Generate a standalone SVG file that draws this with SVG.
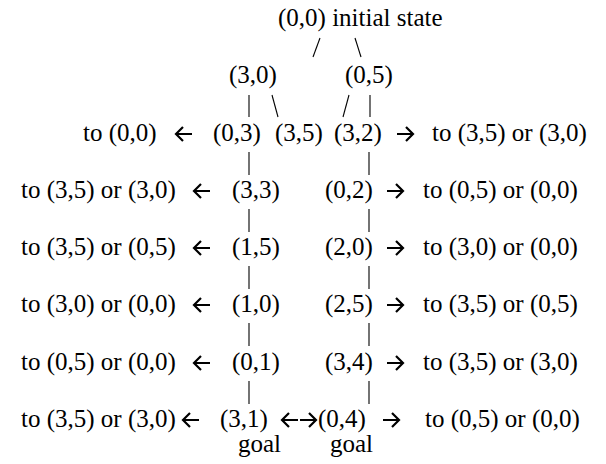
<svg xmlns="http://www.w3.org/2000/svg" width="606" height="464" viewBox="0 0 606 464">
<style>
text{font-family:'Liberation Serif','Times New Roman','DejaVu Serif',serif;font-size:25px;fill:#000}
.c line{stroke:#000;stroke-width:1.1}
.a path{fill:none;stroke:#000;stroke-width:2.2}
</style>
<rect width="606" height="464" fill="#fff"/>
<g id="n00"><text x="278" y="26">(0,0) initial state</text></g>
<g id="n30"><text x="229" y="83">(3,0)</text></g>
<g id="n05"><text x="345" y="83">(0,5)</text></g>
<g id="n03"><text x="213" y="141">(0,3)</text><text x="83" y="141">to (0,0)</text></g>
<g id="n35"><text x="275" y="141">(3,5)</text></g>
<g id="n32"><text x="334" y="141">(3,2)</text><text x="432" y="141">to (3,5) or (3,0)</text></g>
<g id="n33"><text x="232" y="198">(3,3)</text><text x="21" y="198">to (3,5) or (3,0)</text></g>
<g id="n02"><text x="325" y="198">(0,2)</text><text x="423" y="198">to (0,5) or (0,0)</text></g>
<g id="n15"><text x="232" y="255">(1,5)</text><text x="21" y="255">to (3,5) or (0,5)</text></g>
<g id="n20"><text x="325" y="255">(2,0)</text><text x="423" y="255">to (3,0) or (0,0)</text></g>
<g id="n10"><text x="232" y="312">(1,0)</text><text x="21" y="312">to (3,0) or (0,0)</text></g>
<g id="n25"><text x="325" y="312">(2,5)</text><text x="423" y="312">to (3,5) or (0,5)</text></g>
<g id="n01"><text x="232" y="370">(0,1)</text><text x="21" y="370">to (0,5) or (0,0)</text></g>
<g id="n34"><text x="325" y="370">(3,4)</text><text x="423" y="370">to (3,5) or (3,0)</text></g>
<g id="n31"><text x="220" y="427">(3,1)</text><text x="21" y="427">to (3,5) or (3,0)</text><text x="238" y="452">goal</text></g>
<g id="n04"><text x="318" y="427">(0,4)</text><text x="425" y="427">to (0,5) or (0,0)</text><text x="330" y="452">goal</text></g>
<g id="connectors">
<g class="c">
<line x1="320" y1="38" x2="313" y2="57"/>
<line x1="355" y1="38" x2="361" y2="57"/>
<line x1="249" y1="95" x2="249" y2="117"/>
<line x1="272" y1="95" x2="278" y2="117"/>
<line x1="349" y1="95" x2="343" y2="117"/>
<line x1="370" y1="95" x2="370" y2="117"/>
<line x1="249" y1="152" x2="249" y2="175"/>
<line x1="369" y1="152" x2="369" y2="175"/>
<line x1="249" y1="209" x2="249" y2="232"/>
<line x1="369" y1="209" x2="369" y2="232"/>
<line x1="249" y1="266" x2="249" y2="289"/>
<line x1="369" y1="266" x2="369" y2="289"/>
<line x1="249" y1="323" x2="249" y2="346"/>
<line x1="369" y1="323" x2="369" y2="346"/>
<line x1="249" y1="381" x2="249" y2="404"/>
<line x1="369" y1="381" x2="369" y2="404"/>
</g>
<g class="a">
<path d="M192 134H176M183 127L176 134L183 141"/>
<path d="M397 134H413M406 127L413 134L406 141"/>
<path d="M210 191H194M201 184L194 191L201 198"/>
<path d="M387 191H403M396 184L403 191L396 198"/>
<path d="M210 248H194M201 241L194 248L201 255"/>
<path d="M387 248H403M396 241L403 248L396 255"/>
<path d="M210 305H194M201 298L194 305L201 312"/>
<path d="M387 305H403M396 298L403 305L396 312"/>
<path d="M210 363H194M201 356L194 363L201 370"/>
<path d="M387 363H403M396 356L403 363L396 370"/>
<path d="M199 420H183M190 413L183 420L190 427"/>
<path d="M298 420H282M289 413L282 420L289 427"/>
<path d="M300 420H316M309 413L316 420L309 427"/>
<path d="M383 420H399M392 413L399 420L392 427"/>
</g>
</g>
</svg>
